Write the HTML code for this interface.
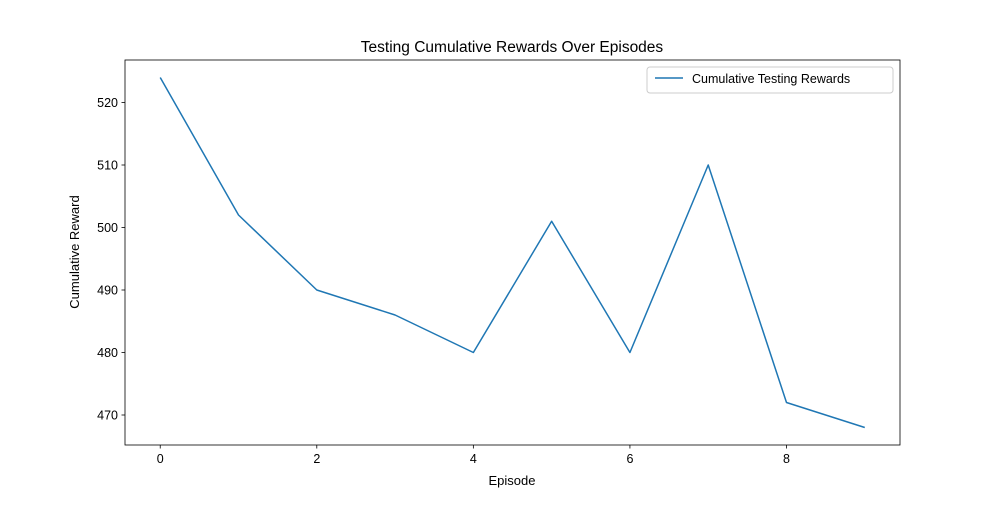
<!DOCTYPE html>
<html><head><meta charset="utf-8"><style>
body{margin:0;background:#fff;}
svg text{font-family:"Liberation Sans","DejaVu Sans",sans-serif;fill:#000;}
</style></head><body>
<svg id="chart" width="1000" height="500" xmlns="http://www.w3.org/2000/svg">
<rect width="1000" height="500" fill="#fff"/>
<g id="plot"></g>
</svg>
<script>
const episodes=[0,1,2,3,4,5,6,7,8,9];
const rewards=[524,502,490,486,480,501,480,510,472,468];
const xTicks=[0,2,4,6,8];
const yTicks=[470,480,490,500,510,520];
const L=125,R=900,T=60,B=445;
const xmin=-0.45,xmax=9.45,ymin=465.2,ymax=526.8;
const sx=v=>L+(v-xmin)/(xmax-xmin)*(R-L);
const sy=v=>B-(v-ymin)/(ymax-ymin)*(B-T);
const NS='http://www.w3.org/2000/svg';
const g=document.getElementById('plot');
function mk(tag,attrs,name,text){const e=document.createElementNS(NS,tag);for(const k in attrs)e.setAttribute(k,attrs[k]);


if(text!==undefined)e.textContent=text;g.appendChild(e);return e;}
xTicks.forEach(t=>{const x=sx(t);
mk('line',{x1:x,x2:x,y1:B,y2:B+3.5,stroke:'#000','stroke-width':0.8},'x-tick');
mk('text',{x:x,y:B+18,'text-anchor':'middle','font-size':12.5},'x-tick-label',String(t));});
yTicks.forEach(t=>{const y=sy(t);
mk('line',{x1:L-3.5,x2:L,y1:y,y2:y,stroke:'#000','stroke-width':0.8},'y-tick');
mk('text',{x:L-7,y:y+4.5,'text-anchor':'end','font-size':12.5},'y-tick-label',String(t));});
mk('polyline',{points:episodes.map((e,i)=>sx(e)+','+sy(rewards[i])).join(' '),fill:'none',stroke:'#1f77b4','stroke-width':1.5,'stroke-linejoin':'round'},'reward-line');
mk('rect',{x:L,y:T,width:R-L,height:B-T,fill:'none',stroke:'#000','stroke-width':0.8},'plot-frame');
mk('text',{x:512,y:52,'text-anchor':'middle','font-size':15.5},'chart-title','Testing Cumulative Rewards Over Episodes');
mk('text',{x:512,y:485,'text-anchor':'middle','font-size':13},'x-axis-title','Episode');
mk('text',{x:79,y:252,'text-anchor':'middle','font-size':13,transform:'rotate(-90 79 252)'},'y-axis-title','Cumulative Reward');
mk('rect',{x:647,y:67,width:246,height:26,rx:3,fill:'#fff',stroke:'#ccc','stroke-width':1},'legend-box');
mk('line',{x1:655,x2:683,y1:78,y2:78,stroke:'#1f77b4','stroke-width':1.5},'legend-swatch');
mk('text',{x:692,y:83,'font-size':12.5},'legend-label','Cumulative Testing Rewards');
</script>
</body></html>
